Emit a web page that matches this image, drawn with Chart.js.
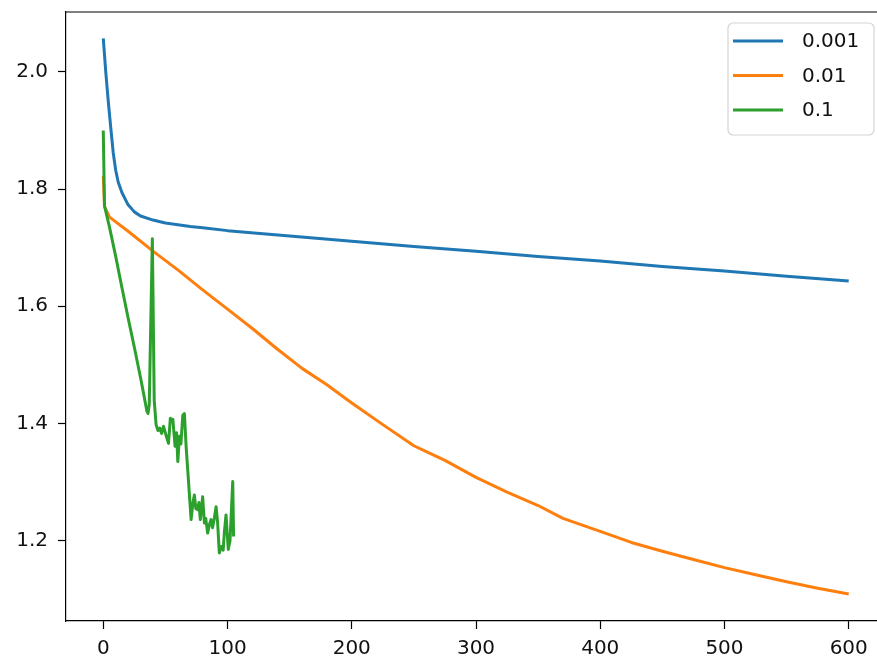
<!DOCTYPE html>
<html>
<head>
<meta charset="utf-8">
<script src="https://cdn.jsdelivr.net/npm/chart.js@4"></script>
<style>
  html, body { margin: 0; padding: 0; background: #fff; overflow: hidden; }
  #wrap { position: relative; width: 900px; height: 659px; }
</style>
</head>
<body>
<div id="wrap"><canvas id="lossChart"></canvas></div>
<script>
// Training loss per epoch for three learning rates
const seriesLabels = ['0.001', '0.01', '0.1'];
const seriesColors = ['#1f77b4', '#ff7f0e', '#2ca02c'];

const lr001Epochs = [0, 2, 4, 6, 8, 10, 12, 15, 20, 25, 30, 40, 50, 60, 70, 80, 100, 150, 200, 250, 300, 350, 400, 450, 500, 550, 600];
const lr001Loss   = [2.057, 2.0, 1.95, 1.905, 1.862, 1.832, 1.812, 1.794, 1.773, 1.761, 1.754, 1.747, 1.742, 1.739, 1.736, 1.734, 1.729, 1.720, 1.711, 1.702, 1.694, 1.685, 1.677, 1.668, 1.660, 1.651, 1.643];

const lr01Epochs = [0, 1, 5, 20, 40, 60, 80, 100, 120, 140, 160, 180, 200, 225, 250, 260, 275, 300, 325, 350, 370, 400, 425, 450, 475, 500, 525, 550, 575, 600];
const lr01Loss   = [1.822, 1.770, 1.752, 1.728, 1.694, 1.662, 1.628, 1.595, 1.562, 1.527, 1.494, 1.466, 1.435, 1.398, 1.362, 1.352, 1.337, 1.308, 1.283, 1.260, 1.238, 1.216, 1.197, 1.182, 1.168, 1.154, 1.142, 1.130, 1.119, 1.109];

const lr1Epochs = [0, 1, 5, 10, 15, 20, 25, 30, 33, 35, 36, 37, 39.5, 41, 42.5, 44, 45.5, 47, 48.5, 50.5, 52.5, 54, 55, 56, 57.8, 59, 60, 61.3, 62.5, 64, 65.3, 66.7, 68, 70.7, 72, 73.3, 74.5, 76, 77, 78.1, 80, 81.4, 82.5, 84, 85.5, 86.7, 88, 89.5, 90.8, 92, 93.4, 95, 96.5, 97.5, 98.8, 100.6, 102, 103, 104.2, 104.9];
const lr1Loss   = [1.900, 1.771, 1.735, 1.685, 1.632, 1.580, 1.530, 1.478, 1.445, 1.422, 1.417, 1.432, 1.715, 1.44, 1.398, 1.388, 1.392, 1.383, 1.395, 1.380, 1.366, 1.409, 1.405, 1.407, 1.361, 1.384, 1.335, 1.378, 1.365, 1.414, 1.417, 1.360, 1.320, 1.236, 1.262, 1.278, 1.255, 1.253, 1.265, 1.236, 1.275, 1.230, 1.238, 1.213, 1.228, 1.236, 1.222, 1.240, 1.258, 1.232, 1.179, 1.190, 1.184, 1.215, 1.244, 1.185, 1.200, 1.245, 1.301, 1.207];

const xTicks = [0, 100, 200, 300, 400, 500, 600];
const yTicks = [1.2, 1.4, 1.6, 1.8, 2.0];

const FONT = { family: 'DejaVu Sans', size: 20 };

function pairs(xs, ys) {
  return xs.map((x, i) => ({ x: x, y: ys[i] }));
}

// top and right spines, plus a matplotlib-style legend box
const framePlugin = {
  id: 'frame',
  afterDraw(chart) {
    const ctx = chart.ctx;
    const a = chart.chartArea;
    ctx.save();
    ctx.strokeStyle = '#000';
    ctx.lineWidth = 1.2;
    ctx.beginPath();
    ctx.moveTo(a.left, a.top);
    ctx.lineTo(a.right, a.top);
    ctx.lineTo(a.right, a.bottom);
    ctx.stroke();

    // legend
    const boxR = a.right - 12, boxT = a.top + 11;
    const boxW = 146, boxH = 112;
    const boxL = boxR - boxW;
    ctx.beginPath();
    ctx.roundRect(boxL, boxT, boxW, boxH, 5);
    ctx.fillStyle = 'rgba(255,255,255,0.8)';
    ctx.fill();
    ctx.strokeStyle = '#d4d4d4';
    ctx.lineWidth = 1.2;
    ctx.stroke();

    ctx.font = FONT.size + 'px ' + FONT.family;
    ctx.textBaseline = 'middle';
    ctx.textAlign = 'left';
    chart.data.datasets.forEach((ds, i) => {
      const y = boxT + 18 + i * 34.5;
      ctx.strokeStyle = ds.borderColor;
      ctx.lineWidth = 3;
      ctx.beginPath();
      ctx.moveTo(boxL + 5, y);
      ctx.lineTo(boxL + 55, y);
      ctx.stroke();
      ctx.fillStyle = '#111';
      ctx.fillText(ds.label, boxL + 74, y + 1);
    });
    ctx.restore();
  }
};

new Chart(document.getElementById('lossChart'), {
  type: 'line',
  data: {
    datasets: [
      { label: seriesLabels[0], data: pairs(lr001Epochs, lr001Loss), borderColor: seriesColors[0], order: 3 },
      { label: seriesLabels[1], data: pairs(lr01Epochs, lr01Loss), borderColor: seriesColors[1], order: 2 },
      { label: seriesLabels[2], data: pairs(lr1Epochs, lr1Loss), borderColor: seriesColors[2], order: 1 }
    ]
  },
  options: {
    responsive: true,
    maintainAspectRatio: false,
    animation: false,
    events: [],
    elements: {
      line: { borderWidth: 3, tension: 0, borderCapStyle: 'butt', borderJoinStyle: 'round' },
      point: { radius: 0 }
    },
    layout: { padding: { left: 0, top: 12, right: 14, bottom: 0 } },
    plugins: { legend: { display: false }, tooltip: { enabled: false } },
    scales: {
      x: {
        type: 'linear',
        min: -30,
        max: 630,
        afterBuildTicks(scale) { scale.ticks = xTicks.map(v => ({ value: v })); },
        afterFit(scale) { scale.height = 38; scale.paddingLeft = 0; scale.paddingRight = 0; },
        grid: { drawOnChartArea: false, drawTicks: true, tickLength: 8, color: '#000', tickWidth: 1.2 },
        border: { display: true, color: '#000', width: 1.2 },
        ticks: { font: FONT, color: '#111', padding: 8, maxRotation: 0, autoSkip: false }
      },
      y: {
        type: 'linear',
        min: 1.063,
        max: 2.102,
        afterBuildTicks(scale) { scale.ticks = yTicks.map(v => ({ value: v })); },
        afterFit(scale) { scale.width = 66; scale.paddingTop = 0; scale.paddingBottom = 0; },
        grid: { drawOnChartArea: false, drawTicks: true, tickLength: 8, color: '#000', tickWidth: 1.2 },
        border: { display: true, color: '#000', width: 1.2 },
        ticks: { font: FONT, color: '#111', padding: 10, callback: v => v.toFixed(1) }
      }
    }
  },
  plugins: [framePlugin]
});
</script>
</body>
</html>
